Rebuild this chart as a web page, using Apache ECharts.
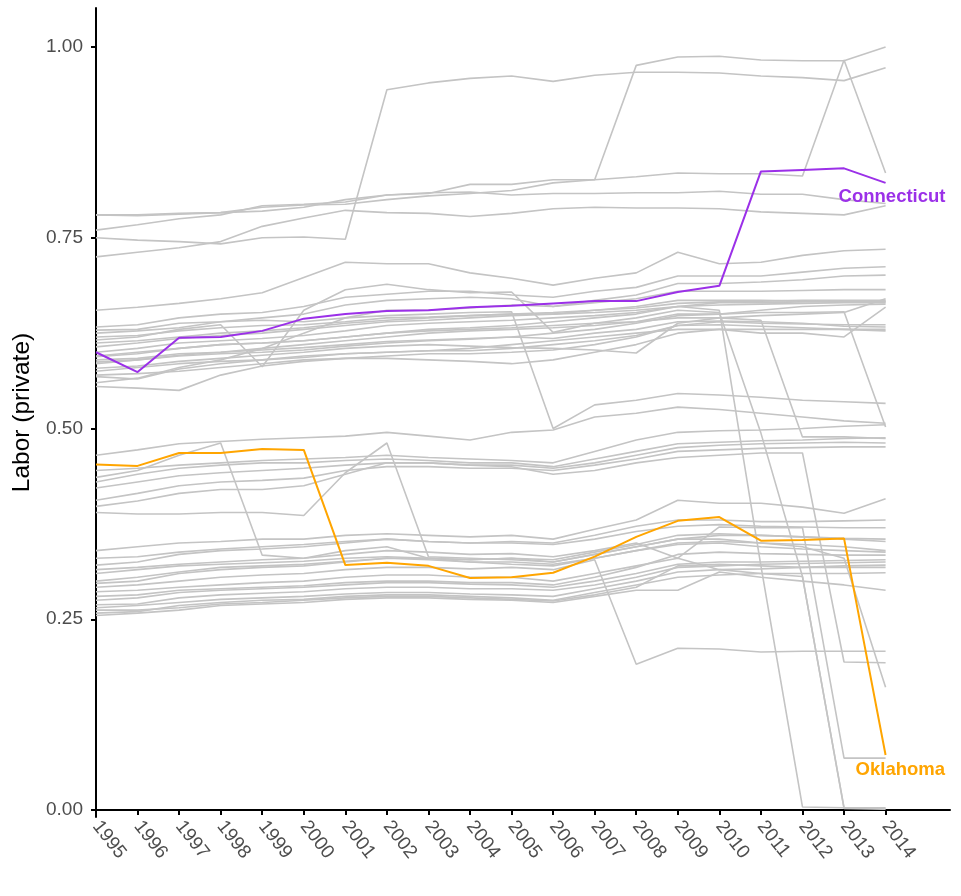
<!DOCTYPE html>
<html>
<head>
<meta charset="utf-8">
<script src="https://cdn.jsdelivr.net/npm/echarts@6/dist/echarts.min.js"></script>
<style>
html,body{margin:0;padding:0;background:#fff;}
#chart{width:961px;height:896px;}
</style>
</head>
<body>
<div id="chart"></div>
<script>
// x categories (years)
const years = [1995,1996,1997,1998,1999,2000,2001,2002,2003,2004,2005,2006,2007,2008,2009,2010,2011,2012,2013,2014];
const yTicks = [0, 0.25, 0.5, 0.75, 1.0];

// highlighted states
const connecticut = [0.600,0.574,0.619,0.620,0.628,0.644,0.650,0.654,0.655,0.659,0.661,0.664,0.667,0.667,0.679,0.687,0.837,0.839,0.841,0.822];
const oklahoma    = [0.453,0.451,0.468,0.468,0.473,0.472,0.321,0.324,0.320,0.304,0.305,0.311,0.332,0.358,0.379,0.384,0.353,0.354,0.356,0.072];

// other states (grey)
const g01 = [0.750,0.747,0.745,0.742,0.750,0.751,0.748,0.944,0.953,0.959,0.962,0.955,0.963,0.967,0.967,0.966,0.962,0.960,0.956,0.973];
const g02 = [0.760,0.767,0.775,0.780,0.792,0.794,0.797,0.806,0.808,0.820,0.820,0.826,0.826,0.976,0.987,0.988,0.983,0.982,0.982,1.000];
const g03 = [0.780,0.779,0.781,0.783,0.790,0.793,0.794,0.800,0.805,0.808,0.812,0.822,0.826,0.830,0.835,0.834,0.834,0.831,0.983,0.835];
const g04 = [0.780,0.780,0.782,0.783,0.785,0.790,0.800,0.806,0.809,0.810,0.806,0.808,0.808,0.809,0.809,0.811,0.807,0.807,0.800,0.795];
const g05 = [0.725,0.731,0.737,0.745,0.765,0.776,0.786,0.783,0.782,0.778,0.782,0.788,0.790,0.789,0.789,0.788,0.784,0.782,0.780,0.792];
const g06 = [0.655,0.659,0.664,0.670,0.678,0.698,0.718,0.716,0.716,0.704,0.697,0.688,0.697,0.704,0.731,0.716,0.718,0.727,0.733,0.735];
const m01 = [0.633,0.636,0.645,0.650,0.652,0.660,0.672,0.676,0.680,0.680,0.675,0.672,0.680,0.685,0.700,0.700,0.700,0.705,0.710,0.712];
const m02 = [0.629,0.630,0.638,0.640,0.645,0.650,0.662,0.668,0.670,0.672,0.670,0.660,0.668,0.675,0.690,0.690,0.692,0.695,0.700,0.701];
const m03 = [0.616,0.620,0.630,0.636,0.581,0.655,0.682,0.689,0.682,0.678,0.679,0.626,0.638,0.645,0.655,0.652,0.494,0.306,0.002,0.001];
const m04 = [0.607,0.612,0.618,0.622,0.625,0.630,0.635,0.640,0.642,0.645,0.648,0.650,0.652,0.655,0.660,0.655,0.320,0.004,0.003,0.003];
const m05 = [0.625,0.628,0.632,0.640,0.642,0.640,0.645,0.648,0.650,0.652,0.653,0.500,0.531,0.537,0.546,0.544,0.541,0.537,0.535,0.533];
const m06 = [0.594,0.598,0.605,0.610,0.612,0.615,0.620,0.625,0.628,0.630,0.632,0.635,0.638,0.640,0.645,0.645,0.642,0.489,0.489,0.487];
const m07 = [0.587,0.590,0.596,0.600,0.605,0.610,0.615,0.620,0.625,0.628,0.630,0.632,0.635,0.640,0.650,0.650,0.652,0.652,0.653,0.502];
const m08 = [0.579,0.582,0.588,0.592,0.596,0.600,0.605,0.608,0.610,0.608,0.606,0.605,0.603,0.599,0.638,0.645,0.648,0.650,0.652,0.670];
const m09 = [0.568,0.565,0.578,0.585,0.590,0.595,0.598,0.600,0.602,0.605,0.610,0.615,0.620,0.625,0.630,0.630,0.625,0.625,0.620,0.659];
const m10 = [0.555,0.553,0.550,0.570,0.582,0.588,0.592,0.595,0.598,0.598,0.600,0.603,0.610,0.620,0.635,0.636,0.634,0.632,0.630,0.628];
const m11 = [0.600,0.605,0.612,0.615,0.618,0.622,0.628,0.635,0.638,0.640,0.642,0.645,0.648,0.652,0.660,0.665,0.665,0.666,0.667,0.667];
const m12 = [0.595,0.600,0.605,0.610,0.612,0.615,0.620,0.625,0.630,0.632,0.635,0.640,0.645,0.650,0.660,0.662,0.663,0.664,0.665,0.665];
const m13 = [0.585,0.590,0.595,0.598,0.600,0.603,0.608,0.612,0.615,0.617,0.620,0.625,0.630,0.638,0.648,0.650,0.655,0.660,0.662,0.663];
const m14 = [0.575,0.580,0.585,0.588,0.590,0.593,0.598,0.600,0.602,0.602,0.605,0.610,0.615,0.622,0.635,0.640,0.638,0.637,0.636,0.636];
const m15 = [0.560,0.566,0.580,0.590,0.605,0.625,0.645,0.655,0.655,0.658,0.662,0.660,0.665,0.670,0.680,0.680,0.680,0.681,0.682,0.682];
const m16 = [0.590,0.592,0.598,0.600,0.603,0.606,0.610,0.614,0.616,0.618,0.620,0.618,0.625,0.630,0.640,0.641,0.640,0.638,0.634,0.633];
const m17 = [0.570,0.572,0.575,0.580,0.585,0.590,0.592,0.592,0.590,0.588,0.585,0.590,0.600,0.610,0.625,0.630,0.630,0.630,0.630,0.630];
const m18 = [0.612,0.615,0.620,0.625,0.628,0.632,0.638,0.642,0.645,0.648,0.650,0.652,0.655,0.658,0.664,0.666,0.667,0.668,0.668,0.668];
const m19 = [0.620,0.622,0.628,0.632,0.635,0.636,0.640,0.645,0.646,0.648,0.650,0.650,0.655,0.660,0.668,0.668,0.668,0.667,0.666,0.666];
const l01 = [0.465,0.472,0.480,0.483,0.486,0.488,0.490,0.495,0.490,0.485,0.495,0.498,0.515,0.520,0.528,0.525,0.520,0.515,0.510,0.507];
const l02 = [0.436,0.445,0.465,0.481,0.334,0.330,0.340,0.345,0.330,0.325,0.322,0.320,0.330,0.340,0.350,0.352,0.350,0.348,0.345,0.340];
const l03 = [0.390,0.388,0.388,0.390,0.390,0.386,0.442,0.481,0.332,0.330,0.328,0.325,0.335,0.345,0.355,0.360,0.360,0.358,0.355,0.352];
const l04 = [0.430,0.440,0.448,0.452,0.455,0.455,0.458,0.460,0.458,0.455,0.455,0.450,0.460,0.470,0.480,0.482,0.484,0.485,0.487,0.488];
const l05 = [0.422,0.430,0.438,0.442,0.445,0.448,0.452,0.455,0.455,0.452,0.452,0.448,0.455,0.465,0.475,0.478,0.480,0.481,0.482,0.481];
const l06 = [0.406,0.415,0.425,0.430,0.432,0.435,0.445,0.450,0.450,0.448,0.448,0.445,0.452,0.460,0.470,0.472,0.474,0.475,0.476,0.476];
const l07 = [0.445,0.448,0.452,0.455,0.458,0.460,0.462,0.465,0.462,0.460,0.458,0.455,0.470,0.485,0.495,0.497,0.498,0.500,0.503,0.505];
const l08 = [0.398,0.405,0.415,0.420,0.420,0.425,0.440,0.455,0.455,0.452,0.450,0.440,0.445,0.455,0.462,0.465,0.468,0.468,0.194,0.193];
const b01 = [0.340,0.345,0.350,0.352,0.355,0.355,0.360,0.362,0.360,0.358,0.360,0.355,0.368,0.380,0.406,0.402,0.402,0.397,0.389,0.408];
const b02 = [0.321,0.325,0.335,0.340,0.342,0.345,0.350,0.355,0.352,0.350,0.352,0.350,0.360,0.372,0.380,0.380,0.378,0.378,0.379,0.380];
const b03 = [0.315,0.318,0.322,0.325,0.328,0.330,0.335,0.340,0.338,0.335,0.336,0.332,0.340,0.350,0.330,0.371,0.370,0.370,0.068,0.068];
const b04 = [0.297,0.300,0.310,0.315,0.318,0.320,0.325,0.330,0.330,0.328,0.330,0.325,0.335,0.345,0.355,0.355,0.350,0.345,0.330,0.161];
const b05 = [0.292,0.295,0.300,0.305,0.308,0.310,0.315,0.318,0.318,0.316,0.318,0.315,0.328,0.191,0.212,0.211,0.207,0.208,0.208,0.208];
const b06 = [0.286,0.288,0.292,0.295,0.298,0.300,0.305,0.308,0.308,0.305,0.305,0.300,0.310,0.320,0.330,0.315,0.310,0.306,0.003,0.002];
const b07 = [0.275,0.278,0.285,0.288,0.290,0.292,0.295,0.298,0.298,0.296,0.295,0.292,0.300,0.310,0.322,0.325,0.325,0.326,0.327,0.328];
const b08 = [0.269,0.270,0.278,0.282,0.284,0.286,0.290,0.292,0.292,0.290,0.290,0.288,0.295,0.305,0.318,0.320,0.322,0.323,0.324,0.325];
const b09 = [0.265,0.268,0.272,0.276,0.278,0.280,0.283,0.285,0.285,0.283,0.282,0.280,0.290,0.300,0.312,0.315,0.316,0.318,0.320,0.321];
const b10 = [0.258,0.260,0.268,0.272,0.275,0.276,0.280,0.282,0.282,0.280,0.278,0.275,0.285,0.295,0.305,0.308,0.310,0.310,0.310,0.311];
const b11 = [0.255,0.258,0.262,0.268,0.270,0.272,0.276,0.278,0.278,0.276,0.275,0.272,0.280,0.288,0.288,0.312,0.305,0.300,0.295,0.288];
const b12 = [0.262,0.262,0.265,0.270,0.272,0.275,0.278,0.280,0.280,0.278,0.276,0.274,0.282,0.292,0.320,0.322,0.320,0.318,0.318,0.318];
const b13 = [0.300,0.305,0.312,0.318,0.320,0.322,0.326,0.330,0.328,0.325,0.325,0.322,0.330,0.340,0.348,0.350,0.345,0.342,0.340,0.338];
const b14 = [0.310,0.315,0.320,0.322,0.324,0.326,0.330,0.332,0.330,0.328,0.330,0.328,0.338,0.348,0.360,0.362,0.360,0.358,0.356,0.355];
const b15 = [0.280,0.282,0.288,0.290,0.292,0.294,0.298,0.300,0.300,0.298,0.298,0.295,0.305,0.318,0.335,0.338,0.336,0.335,0.334,0.334];
const b16 = [0.330,0.332,0.338,0.342,0.345,0.348,0.352,0.355,0.352,0.350,0.350,0.348,0.355,0.365,0.372,0.374,0.372,0.371,0.370,0.370];

const greyLines = [g01,g02,g03,g04,g05,g06,m01,m02,m03,m04,m05,m06,m07,m08,m09,m10,m11,m12,m13,m14,m15,m16,m17,m18,m19,
  l01,l02,l03,l04,l05,l06,l07,l08,b01,b02,b03,b04,b05,b06,b07,b08,b09,b10,b11,b12,b13,b14,b15,b16];

const pairs = arr => years.map((y, i) => [y, arr[i]]);
const FONT = 'Liberation Sans, Arial, sans-serif';

const series = greyLines.map(arr => ({
  type: 'line', data: pairs(arr), symbol: 'none', silent: true,
  lineStyle: { color: '#c4c4c4', width: 1.6 }, z: 2
}));
series.push({
  type: 'line', name: 'Connecticut', data: pairs(connecticut), symbol: 'none', silent: true,
  lineStyle: { color: '#9b30e8', width: 2 }, z: 3,
  endLabel: { show: true, formatter: 'Connecticut', color: '#9b30e8', fontSize: 18.5, fontWeight: 'bold',
    fontFamily: FONT, offset: [-55, 14] }
});
series.push({
  type: 'line', name: 'Oklahoma', data: pairs(oklahoma), symbol: 'none', silent: true,
  lineStyle: { color: '#ffa500', width: 2 }, z: 3,
  endLabel: { show: true, formatter: 'Oklahoma', color: '#ffa500', fontSize: 18.5, fontWeight: 'bold',
    fontFamily: FONT, offset: [-38, 15] }
});

const chart = echarts.init(document.getElementById('chart'), null, { renderer: 'canvas' });
chart.setOption({
  animation: false,
  backgroundColor: '#ffffff',
  grid: { left: 96, right: 11, top: 8, bottom: 79, containLabel: false },
  xAxis: {
    type: 'value', min: 1995, max: 2015.55,
    axisLine: { show: true, lineStyle: { color: '#000', width: 2 } },
    axisTick: { show: true, customValues: years, length: 5, lineStyle: { color: '#000', width: 2 } },
    axisLabel: { customValues: years, rotate: -52, margin: 6, color: '#4d4d4d', fontSize: 19,
      fontFamily: FONT, formatter: v => String(v) },
    splitLine: { show: false }
  },
  yAxis: {
    type: 'value', min: -0.0092, max: 1.0512,
    name: 'Labor (private)', nameLocation: 'middle', nameGap: 50,
    nameTextStyle: { color: '#000', fontSize: 24.5, fontFamily: FONT },
    axisLine: { show: true, lineStyle: { color: '#000', width: 2 } },
    axisTick: { show: true, customValues: yTicks, length: 5, lineStyle: { color: '#000', width: 2 } },
    axisLabel: { customValues: yTicks, color: '#4d4d4d', fontSize: 19, margin: 13,
      fontFamily: FONT, formatter: v => v.toFixed(2) },
    splitLine: { show: false }
  },
  series: series
});
</script>
</body>
</html>
